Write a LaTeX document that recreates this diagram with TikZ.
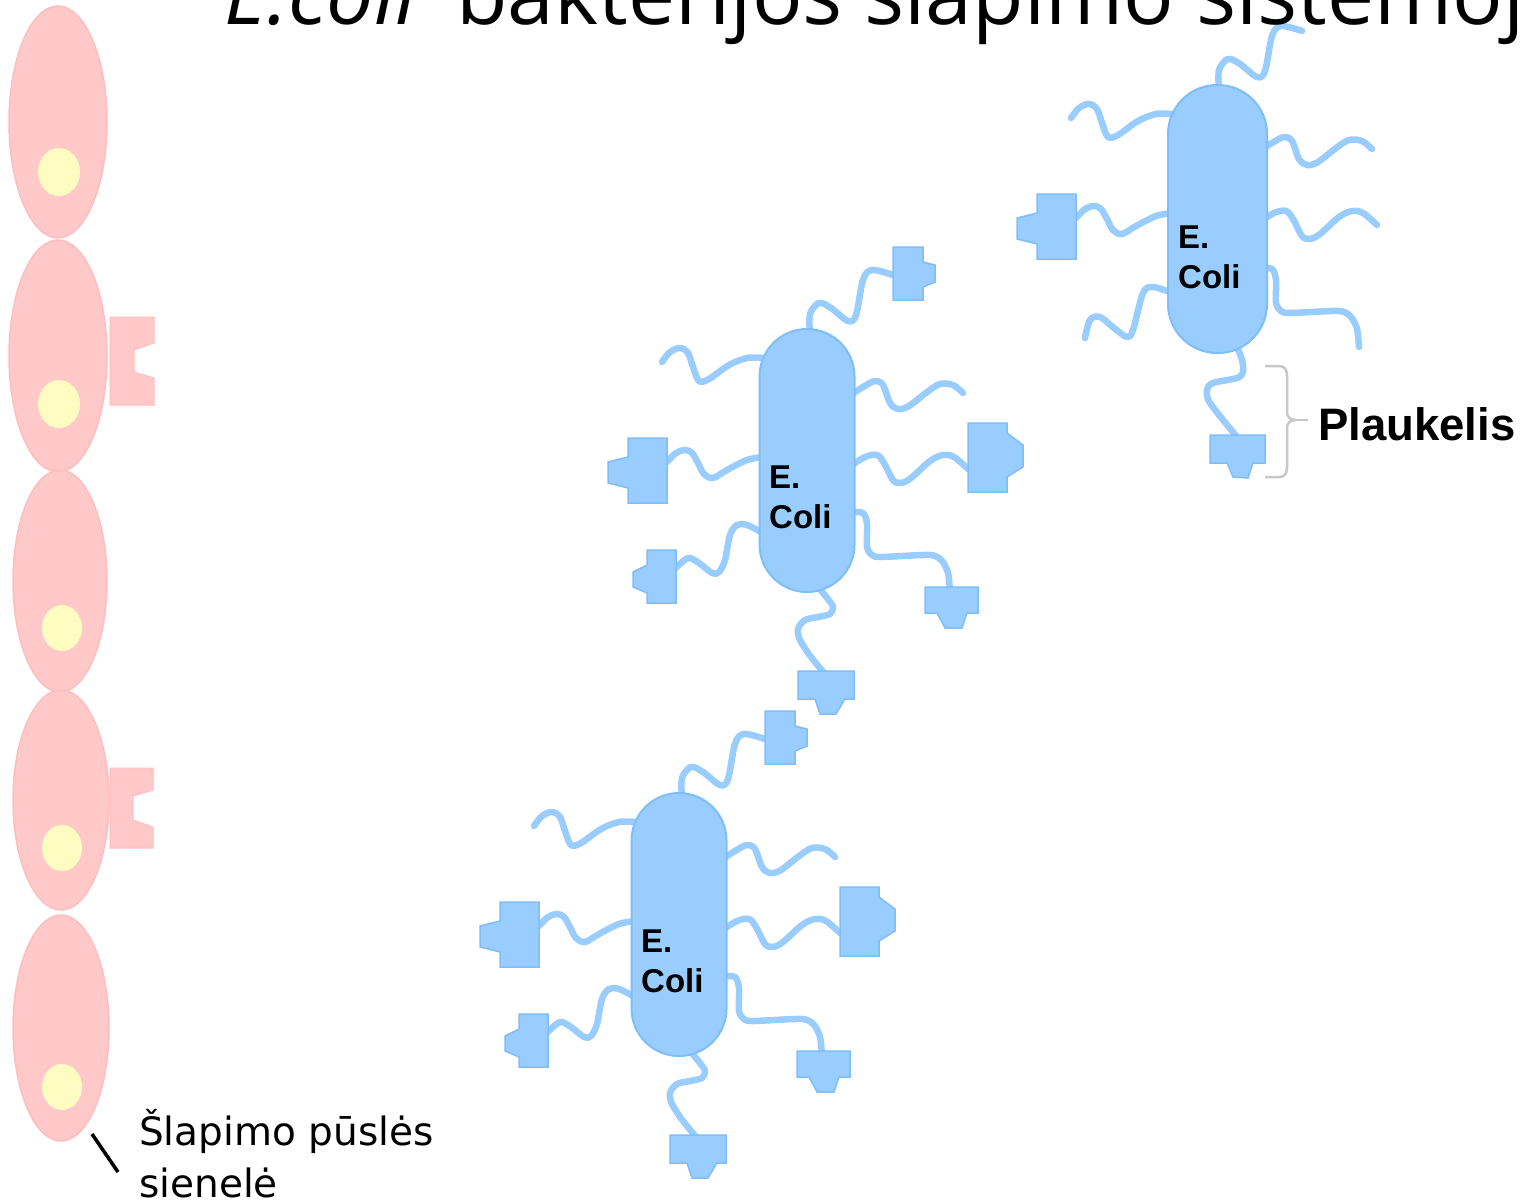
\documentclass[tikz,border=0pt]{standalone}
\usepackage{fontspec}
\setmainfont{Liberation Sans}
\newfontfamily\titlefont{Open Sans}
\newfontfamily\wallfont{DejaVu Sans}

\definecolor{ecfill}{HTML}{99CCFF}
\definecolor{ecedge}{HTML}{80BEFA}
\definecolor{cellpink}{HTML}{FFC9C9}
\definecolor{celledge}{HTML}{FFBDBD}
\definecolor{nucleus}{HTML}{FFFCC2}
\definecolor{bracegray}{HTML}{C8C8C8}

% pili shared by every bacterium (coordinates relative to the cell's top-left corner)
\newcommand\ecolisharedpili{%
  % top pilus
  \draw[pilus] plot[smooth,tension=.55] coordinates {(51,4) (51,-15) (60,-26) (72,-21) (89,-8) (97,-14) (104,-49) (113,-59) (134,-54)};
  % upper left
  \draw[pilus] plot[smooth,tension=.55] coordinates {(4,29) (-12,29) (-30,36) (-50,50) (-60,52) (-66,38) (-71,24) (-79,19) (-89,23) (-97,33)};
  % upper right
  \draw[pilus] plot[smooth,tension=.55] coordinates {(90,67) (104,58) (116,52) (124,56) (131,74) (139,80) (150,77) (168,63) (181,55) (194,56) (204,64)};
  % middle left
  \draw[pilus] plot[smooth,tension=.55] coordinates {(4,128) (-12,131) (-32,141) (-46,149) (-55,145) (-61,134) (-67,124) (-74,121) (-83,124) (-92,133)};
  % middle right
  \draw[pilus] plot[smooth,tension=.55] coordinates {(90,138) (106,128) (118,126) (125,134) (134,151) (142,154) (152,149) (171,132) (184,126) (195,128) (209,140)};
  % lower right
  \draw[pilus] plot[smooth,tension=.45] coordinates {(90,183) (104,184) (108,195) (108,218) (113,226) (122,228) (171,226) (183,232) (189,244) (191,262)};
}
% adhesin tips
\newcommand\adhTopRight{\draw[adhesin] (134,-82) -- (164,-82) -- (164,-67) -- (176,-64) -- (176,-47) -- (164,-42) -- (164,-29) -- (134,-29) -- cycle;}
\newcommand\adhMidLeft{\draw[adhesin] (-92,109) -- (-131,109) -- (-131,128) -- (-151,133) -- (-151,154) -- (-131,159) -- (-131,174) -- (-92,174) -- cycle;}
\newcommand\adhMidRight{\draw[adhesin] (209,94) -- (248,94) -- (248,104) -- (264,116) -- (264,138) -- (248,148) -- (248,163) -- (209,163) -- cycle;}
\newcommand\adhLowLeft{\draw[adhesin] (-83,221) -- (-112,221) -- (-112,236) -- (-126,243) -- (-126,258) -- (-112,264) -- (-112,274) -- (-83,274) -- cycle;}
\newcommand\adhLowRight{\draw[adhesin] (166,258) -- (219,258) -- (219,284) -- (208,284) -- (203,299) -- (186,299) -- (178,284) -- (166,284) -- cycle;}
\newcommand\adhBottom{\draw[adhesin] (39,342) -- (95,342) -- (95,370) -- (86,370) -- (77,385) -- (61,385) -- (56,370) -- (39,370) -- cycle;}

% a fully decorated bacterium (the two lower ones are identical)
\newcommand\ecolifull[1]{%
  \ecolisharedpili
  \draw[pilus] plot[smooth,tension=.55] coordinates {(4,204) (-12,196) (-22,196) (-29,206) (-34,231) (-40,243) (-47,244) (-60,234) (-70,229) (-78,234) (-86,242)};
  \draw[pilus] plot[smooth,tension=.5] coordinates {(59,258) (69,270) (74,278) (71,285) (59,288) (46,291) (39,300) (41,311) (52,328) (66,345)};
  \node[capsule] (#1) at (48,131.5) {};
  \adhTopRight \adhMidLeft \adhMidRight \adhLowLeft \adhLowRight \adhBottom
  \node[ectext] (#1-e) at (10,159) {E.};
  \node[ectext] (#1-coli) at (10,199) {Coli};
}

\begin{document}
\begin{tikzpicture}[x=1pt,y=-1pt,
  pilus/.style={draw=ecfill, line width=6.5pt, line cap=round, line join=round},
  capsule/.style={draw=ecedge, line width=2pt, fill=ecfill, rectangle, rounded corners=47.5pt,
    minimum width=95pt, minimum height=263pt, inner sep=0pt},
  adhesin/.style={draw=ecedge, line width=1.5pt, fill=ecfill, line join=miter},
  ectext/.style={anchor=base west, inner sep=0pt, font=\bfseries\fontsize{33}{38}\selectfont},
  wallcell/.style={fill=cellpink, draw=celledge, line width=1.5pt},
  nucleusdot/.style={fill=nucleus},
  receptor/.style={fill=cellpink, draw=celledge, line width=1pt},
  bracket/.style={draw=bracegray, line width=2.5pt, line join=round},
  leader/.style={draw=black, line width=3.5pt}]

\fill[white] (0,0) rectangle (1522,1202);
\useasboundingbox (0,0) rectangle (1522,1202);

% ---- bladder wall: five epithelial cells with nuclei ----
\path[wallcell] (58,122) ellipse [x radius=49pt, y radius=116pt];
\path[wallcell] (58,356) ellipse [x radius=49pt, y radius=116pt];
\path[wallcell] (60,581) ellipse [x radius=47pt, y radius=111pt];
\path[wallcell] (61,800) ellipse [x radius=48pt, y radius=110pt];
\path[wallcell] (61,1028) ellipse [x radius=48pt, y radius=113pt];
\fill[nucleusdot] (59,172) ellipse [x radius=21pt, y radius=24pt];
\fill[nucleusdot] (59,404) ellipse [x radius=21pt, y radius=24pt];
\fill[nucleusdot] (62,628) ellipse [x radius=20pt, y radius=23pt];
\fill[nucleusdot] (62,848) ellipse [x radius=20pt, y radius=23pt];
\fill[nucleusdot] (62,1087) ellipse [x radius=20pt, y radius=23pt];

% receptors on the cell surface
\path[receptor] (110,317) -- (154,317) -- (154,343) -- (134,350) -- (134,372) -- (154,378) -- (154,405) -- (110,405) -- cycle;
\path[receptor] (110,768) -- (153,768) -- (153,790) -- (133,796) -- (133,820) -- (153,827) -- (153,848) -- (110,848) -- cycle;

% ---- bacterium, upper right ----
\begin{scope}[shift={(1168,85)}]
  \ecolisharedpili
  \draw[pilus] plot[smooth,tension=.55] coordinates {(4,208) (-15,202) (-25,208) (-35,245) (-41,252) (-54,243) (-68,232) (-78,235) (-83,253)};
  \draw[pilus] plot[smooth,tension=.5] coordinates {(69,262) (74,275) (75,287) (69,293) (45,298) (39,305) (42,318) (69,352)};
  \node[capsule, minimum width=99pt, minimum height=268pt, rounded corners=49pt] (ecoliA) at (49.5,134) {};
  \adhMidLeft
  \draw[adhesin] (42,350) -- (97,350) -- (97,378) -- (85,378) -- (80,393) -- (65,392) -- (59,378) -- (42,378) -- cycle;
  \node[ectext] (ecoliA-e) at (10,163) {E.};
  \node[ectext] (ecoliA-coli) at (10,203) {Coli};
\end{scope}

% ---- bacterium, middle ----
\begin{scope}[shift={(759,329)}]
  \ecolifull{ecoliB}
\end{scope}

% ---- bacterium, lower ----
\begin{scope}[shift={(631,793)}]
  \ecolifull{ecoliC}
\end{scope}

% ---- brace and label for one pilus ----
\draw[bracket] (1265,366) -- (1279,366) .. controls (1285,366) and (1287,370) .. (1287,376)
  -- (1287,412) .. controls (1287,417) and (1290,420) .. (1296,420)
  .. controls (1290,420) and (1287,423) .. (1287,428)
  -- (1287,467) .. controls (1287,473) and (1285,477) .. (1279,477) -- (1265,477);
\coordinate (braceTip) at (1296,420);
\coordinate (braceEnd) at (1308,420);
\draw[bracket] (braceTip) -- (braceEnd);
\node[anchor=base west, inner sep=0pt, font=\bfseries\fontsize{45.5}{50}\selectfont] (plaukelis) at (1318,440) {Plaukelis};

% ---- wall label ----
\coordinate (leadA) at (92,1134);
\coordinate (leadB) at (118,1172);
\draw[leader] (leadA) -- (leadB);
\node[anchor=base west, inner sep=0pt, font=\wallfont\fontsize{39}{52}\selectfont] (wall1) at (139,1145) {Šlapimo pūslės};
\node[anchor=base west, inner sep=0pt, font=\wallfont\fontsize{39}{52}\selectfont] (wall2) at (139,1197) {sienelė};

% ---- title ----
\node[anchor=base west, inner sep=0pt, font=\titlefont\fontsize{84}{100}\selectfont] (title) at (224,24) {\textit{E.coli}\hspace{17pt} bakterijos šlapimo sistemoje};

\end{tikzpicture}
\end{document}
